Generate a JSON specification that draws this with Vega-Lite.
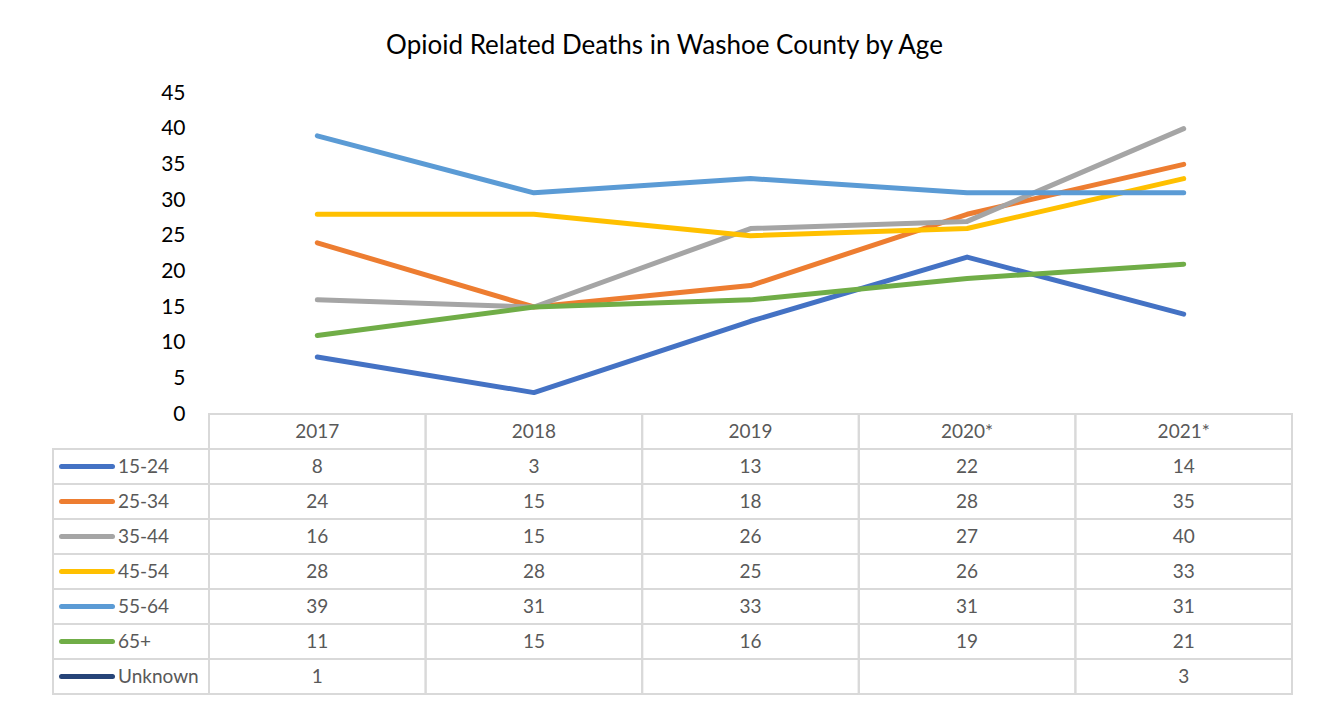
{
  "$schema": "https://vega.github.io/schema/vega-lite/v6.json",
  "background": "white",
  "padding": {"left": 52, "top": 33, "right": 34, "bottom": 10},
  "title": {"text": "Opioid Related Deaths in Washoe County by Age", "fontSize": 26, "font": "Lato", "fontWeight": "normal", "color": "#000000", "anchor": "middle", "offset": 23, "dx": -8},
  "config": {"view": {"stroke": null}, "font": "Lato"},
  "datasets": {
    "table": [
      {"series": "15-24", "year": "2017", "value": 8},
      {"series": "15-24", "year": "2018", "value": 3},
      {"series": "15-24", "year": "2019", "value": 13},
      {"series": "15-24", "year": "2020*", "value": 22},
      {"series": "15-24", "year": "2021*", "value": 14},
      {"series": "25-34", "year": "2017", "value": 24},
      {"series": "25-34", "year": "2018", "value": 15},
      {"series": "25-34", "year": "2019", "value": 18},
      {"series": "25-34", "year": "2020*", "value": 28},
      {"series": "25-34", "year": "2021*", "value": 35},
      {"series": "35-44", "year": "2017", "value": 16},
      {"series": "35-44", "year": "2018", "value": 15},
      {"series": "35-44", "year": "2019", "value": 26},
      {"series": "35-44", "year": "2020*", "value": 27},
      {"series": "35-44", "year": "2021*", "value": 40},
      {"series": "45-54", "year": "2017", "value": 28},
      {"series": "45-54", "year": "2018", "value": 28},
      {"series": "45-54", "year": "2019", "value": 25},
      {"series": "45-54", "year": "2020*", "value": 26},
      {"series": "45-54", "year": "2021*", "value": 33},
      {"series": "55-64", "year": "2017", "value": 39},
      {"series": "55-64", "year": "2018", "value": 31},
      {"series": "55-64", "year": "2019", "value": 33},
      {"series": "55-64", "year": "2020*", "value": 31},
      {"series": "55-64", "year": "2021*", "value": 31},
      {"series": "65+", "year": "2017", "value": 11},
      {"series": "65+", "year": "2018", "value": 15},
      {"series": "65+", "year": "2019", "value": 16},
      {"series": "65+", "year": "2020*", "value": 19},
      {"series": "65+", "year": "2021*", "value": 21},
      {"series": "Unknown", "year": "2017", "value": 1},
      {"series": "Unknown", "year": "2018", "value": null},
      {"series": "Unknown", "year": "2019", "value": null},
      {"series": "Unknown", "year": "2020*", "value": null},
      {"series": "Unknown", "year": "2021*", "value": 3}
    ],
    "series": [
      {"series": "15-24"}, {"series": "25-34"}, {"series": "35-44"}, {"series": "45-54"},
      {"series": "55-64"}, {"series": "65+"}, {"series": "Unknown"}
    ],
    "years": [
      {"year": "2017"}, {"year": "2018"}, {"year": "2019"}, {"year": "2020*"}, {"year": "2021*"}
    ]
  },
  "columns": 2,
  "spacing": 0,
  "bounds": "flush",
  "concat": [
    {
      "width": 156,
      "height": 321,
      "data": {"values": []},
      "mark": "text",
      "encoding": {}
    },
    {
      "width": 1083,
      "height": 321,
      "data": {"name": "table"},
      "transform": [{"filter": "datum.series !== 'Unknown' && datum.value != null"}],
      "mark": {"type": "line", "strokeWidth": 5, "strokeCap": "round", "strokeJoin": "round"},
      "encoding": {
        "x": {"field": "year", "type": "nominal", "scale": {"type": "point", "padding": 0.5, "domain": ["2017", "2018", "2019", "2020*", "2021*"]}, "axis": null},
        "y": {"field": "value", "type": "quantitative", "scale": {"domain": [0, 45], "nice": false, "zero": true},
          "axis": {"values": [0, 5, 10, 15, 20, 25, 30, 35, 40, 45], "title": null, "domain": false, "ticks": false, "grid": false, "labelFontSize": 21, "labelColor": "#000000", "labelPadding": 24, "labelFont": "Lato"}},
        "color": {"field": "series", "type": "nominal", "legend": null,
          "scale": {"domain": ["15-24", "25-34", "35-44", "45-54", "55-64", "65+", "Unknown"], "range": ["#4472C4", "#ED7D31", "#A5A5A5", "#FFC000", "#5B9BD5", "#70AD47", "#264478"]}}
      }
    },
    {
      "width": 156,
      "height": 280,
      "data": {"name": "series"},
      "encoding": {
        "y": {"field": "series", "type": "nominal", "axis": null,
          "scale": {"type": "band", "paddingInner": 0, "paddingOuter": 0, "domain": ["hdr", "15-24", "25-34", "35-44", "45-54", "55-64", "65+", "Unknown"]}}
      },
      "layer": [
        {
          "mark": {"type": "rect", "filled": false, "stroke": "#d9d9d9", "strokeWidth": 2},
          "encoding": {"x": {"value": 0}, "x2": {"value": "width"}}
        },
        {
          "mark": {"type": "rule", "strokeWidth": 5, "strokeCap": "round"},
          "encoding": {
            "x": {"value": 8.5}, "x2": {"value": 59.5},
            "color": {"field": "series", "type": "nominal", "legend": null,
              "scale": {"domain": ["15-24", "25-34", "35-44", "45-54", "55-64", "65+", "Unknown"], "range": ["#4472C4", "#ED7D31", "#A5A5A5", "#FFC000", "#5B9BD5", "#70AD47", "#264478"]}}
          }
        },
        {
          "mark": {"type": "text", "align": "left", "baseline": "middle", "fontSize": 19, "color": "#595959", "font": "Lato"},
          "encoding": {"x": {"value": 65}, "text": {"field": "series"}}
        }
      ]
    },
    {
      "width": 1083,
      "height": 280,
      "layer": [
        {
          "data": {"name": "table"},
          "mark": {"type": "rect", "filled": false, "stroke": "#d9d9d9", "strokeWidth": 2},
          "encoding": {
            "x": {"field": "year", "type": "nominal", "axis": null, "scale": {"type": "band", "paddingInner": 0, "paddingOuter": 0, "domain": ["2017", "2018", "2019", "2020*", "2021*"]}},
            "y": {"field": "series", "type": "nominal", "axis": null, "scale": {"type": "band", "paddingInner": 0, "paddingOuter": 0, "domain": ["hdr", "15-24", "25-34", "35-44", "45-54", "55-64", "65+", "Unknown"]}}
          }
        },
        {
          "data": {"name": "table"},
          "transform": [{"filter": "datum.value != null"}],
          "mark": {"type": "text", "align": "center", "baseline": "middle", "fontSize": 19, "color": "#595959", "font": "Lato"},
          "encoding": {
            "x": {"field": "year", "type": "nominal"},
            "y": {"field": "series", "type": "nominal"},
            "text": {"field": "value", "type": "quantitative"}
          }
        },
        {
          "data": {"name": "years"},
          "mark": {"type": "rect", "filled": false, "stroke": "#d9d9d9", "strokeWidth": 2},
          "encoding": {
            "x": {"field": "year", "type": "nominal"},
            "y": {"datum": "hdr", "type": "nominal"}
          }
        },
        {
          "data": {"name": "years"},
          "mark": {"type": "text", "align": "center", "baseline": "middle", "fontSize": 19, "color": "#595959", "font": "Lato"},
          "encoding": {
            "x": {"field": "year", "type": "nominal"},
            "y": {"datum": "hdr", "type": "nominal"},
            "text": {"field": "year", "type": "nominal"}
          }
        }
      ]
    }
  ]
}
